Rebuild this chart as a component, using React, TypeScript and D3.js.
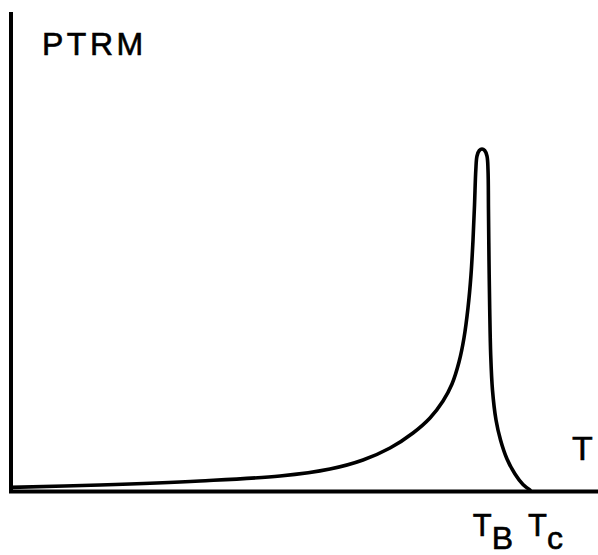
import React, { useEffect, useRef } from 'react';
import * as d3 from 'd3';

// reduced temperature (T / Tc) and PTRM (peak = 1)
const temps = [
  0.0, 0.1715, 0.3642, 0.5183, 0.6146, 0.6782, 0.7303, 0.7746, 0.8073, 0.8324,
  0.8497, 0.8632, 0.8728, 0.8805, 0.8863, 0.8902, 0.8931, 0.8956, 0.8979, 0.9023,
  0.9075, 0.9127, 0.9171, 0.9191, 0.92, 0.921, 0.9224, 0.9243, 0.9277, 0.9345,
  0.9432, 0.9557, 0.9711, 0.9865, 1.0,
];
const ptrm = [
  0.012, 0.019, 0.0307, 0.0453, 0.0657, 0.092, 0.127, 0.1708, 0.2146, 0.2642,
  0.3139, 0.3781, 0.4482, 0.5358, 0.6321, 0.7343, 0.8365, 0.9387, 0.9796, 0.9956,
  1.0, 0.9956, 0.9796, 0.9387, 0.8219, 0.6759, 0.5299, 0.3985, 0.2964, 0.2088,
  0.1504, 0.0949, 0.0511, 0.0204, 0.0044,
];
const tickTemps = [0.909, 1.0];
const tickSubs = ['B', 'c'];
const tickShift = [-10, -2];
const yTitle = 'PTRM';
const xTitle = 'T';

function App() {
  const ref = useRef<SVGSVGElement | null>(null);

  useEffect(() => {
    const width = 598,
      height = 555;
    const xMax = 1.132,
      yMax = 1.4;

    const svg = d3.select(ref.current);
    svg.selectAll('*').remove();
    svg.attr('width', width).attr('height', height);

    const x = d3.scaleLinear().domain([0, 1]).range([11, 530]);
    const y = d3.scaleLinear().domain([0, 1]).range([491.5, 149]);

    // axes
    svg.append('path')
      .attr('d', `M${x(0)},${y(yMax)}V${y(0)}H${x(xMax)}`)
      .attr('fill', 'none')
      .attr('stroke', '#000')
      .attr('stroke-width', 4)
      .attr('stroke-linejoin', 'miter');

    const line = d3.line<number>()
      .x((d, i) => x(temps[i]))
      .y(d => y(d))
      .curve(d3.curveCatmullRom.alpha(0.5));

    svg.append('path')
      .datum(ptrm)
      .attr('d', line)
      .attr('fill', 'none')
      .attr('stroke', '#000')
      .attr('stroke-width', 3.6)
      .attr('stroke-linecap', 'round');

    const font = '"Liberation Sans", Arial, sans-serif';

    svg.append('text')
      .attr('x', 42)
      .attr('y', 55)
      .attr('font-family', font)
      .attr('font-size', 32)
      .attr('letter-spacing', 3.5)
      .attr('stroke', '#000')
      .attr('stroke-width', 0.6)
      .text(yTitle);

    svg.append('text')
      .attr('x', 572)
      .attr('y', 460)
      .attr('font-family', font)
      .attr('font-size', 34)
      .attr('stroke', '#000')
      .attr('stroke-width', 0.6)
      .text(xTitle);

    const ticks = svg.selectAll('.tick-label')
      .data(tickTemps)
      .enter().append('text')
      .attr('class', 'tick-label')
      .attr('x', (d, i) => x(d) + tickShift[i])
      .attr('y', 536)
      .attr('font-family', font)
      .attr('font-size', 31)
      .attr('stroke', '#000')
      .attr('stroke-width', 0.6);
    ticks.append('tspan').text(xTitle);
    ticks.append('tspan')
      .attr('dy', 13)
      .attr('font-size', 32)
      .text((d, i) => tickSubs[i]);
  }, []);

  return (
    <svg
      ref={ref}
      style={{ position: 'absolute', left: 0, top: 0, display: 'block', background: '#fff' }}
    />
  );
}

export default App;
